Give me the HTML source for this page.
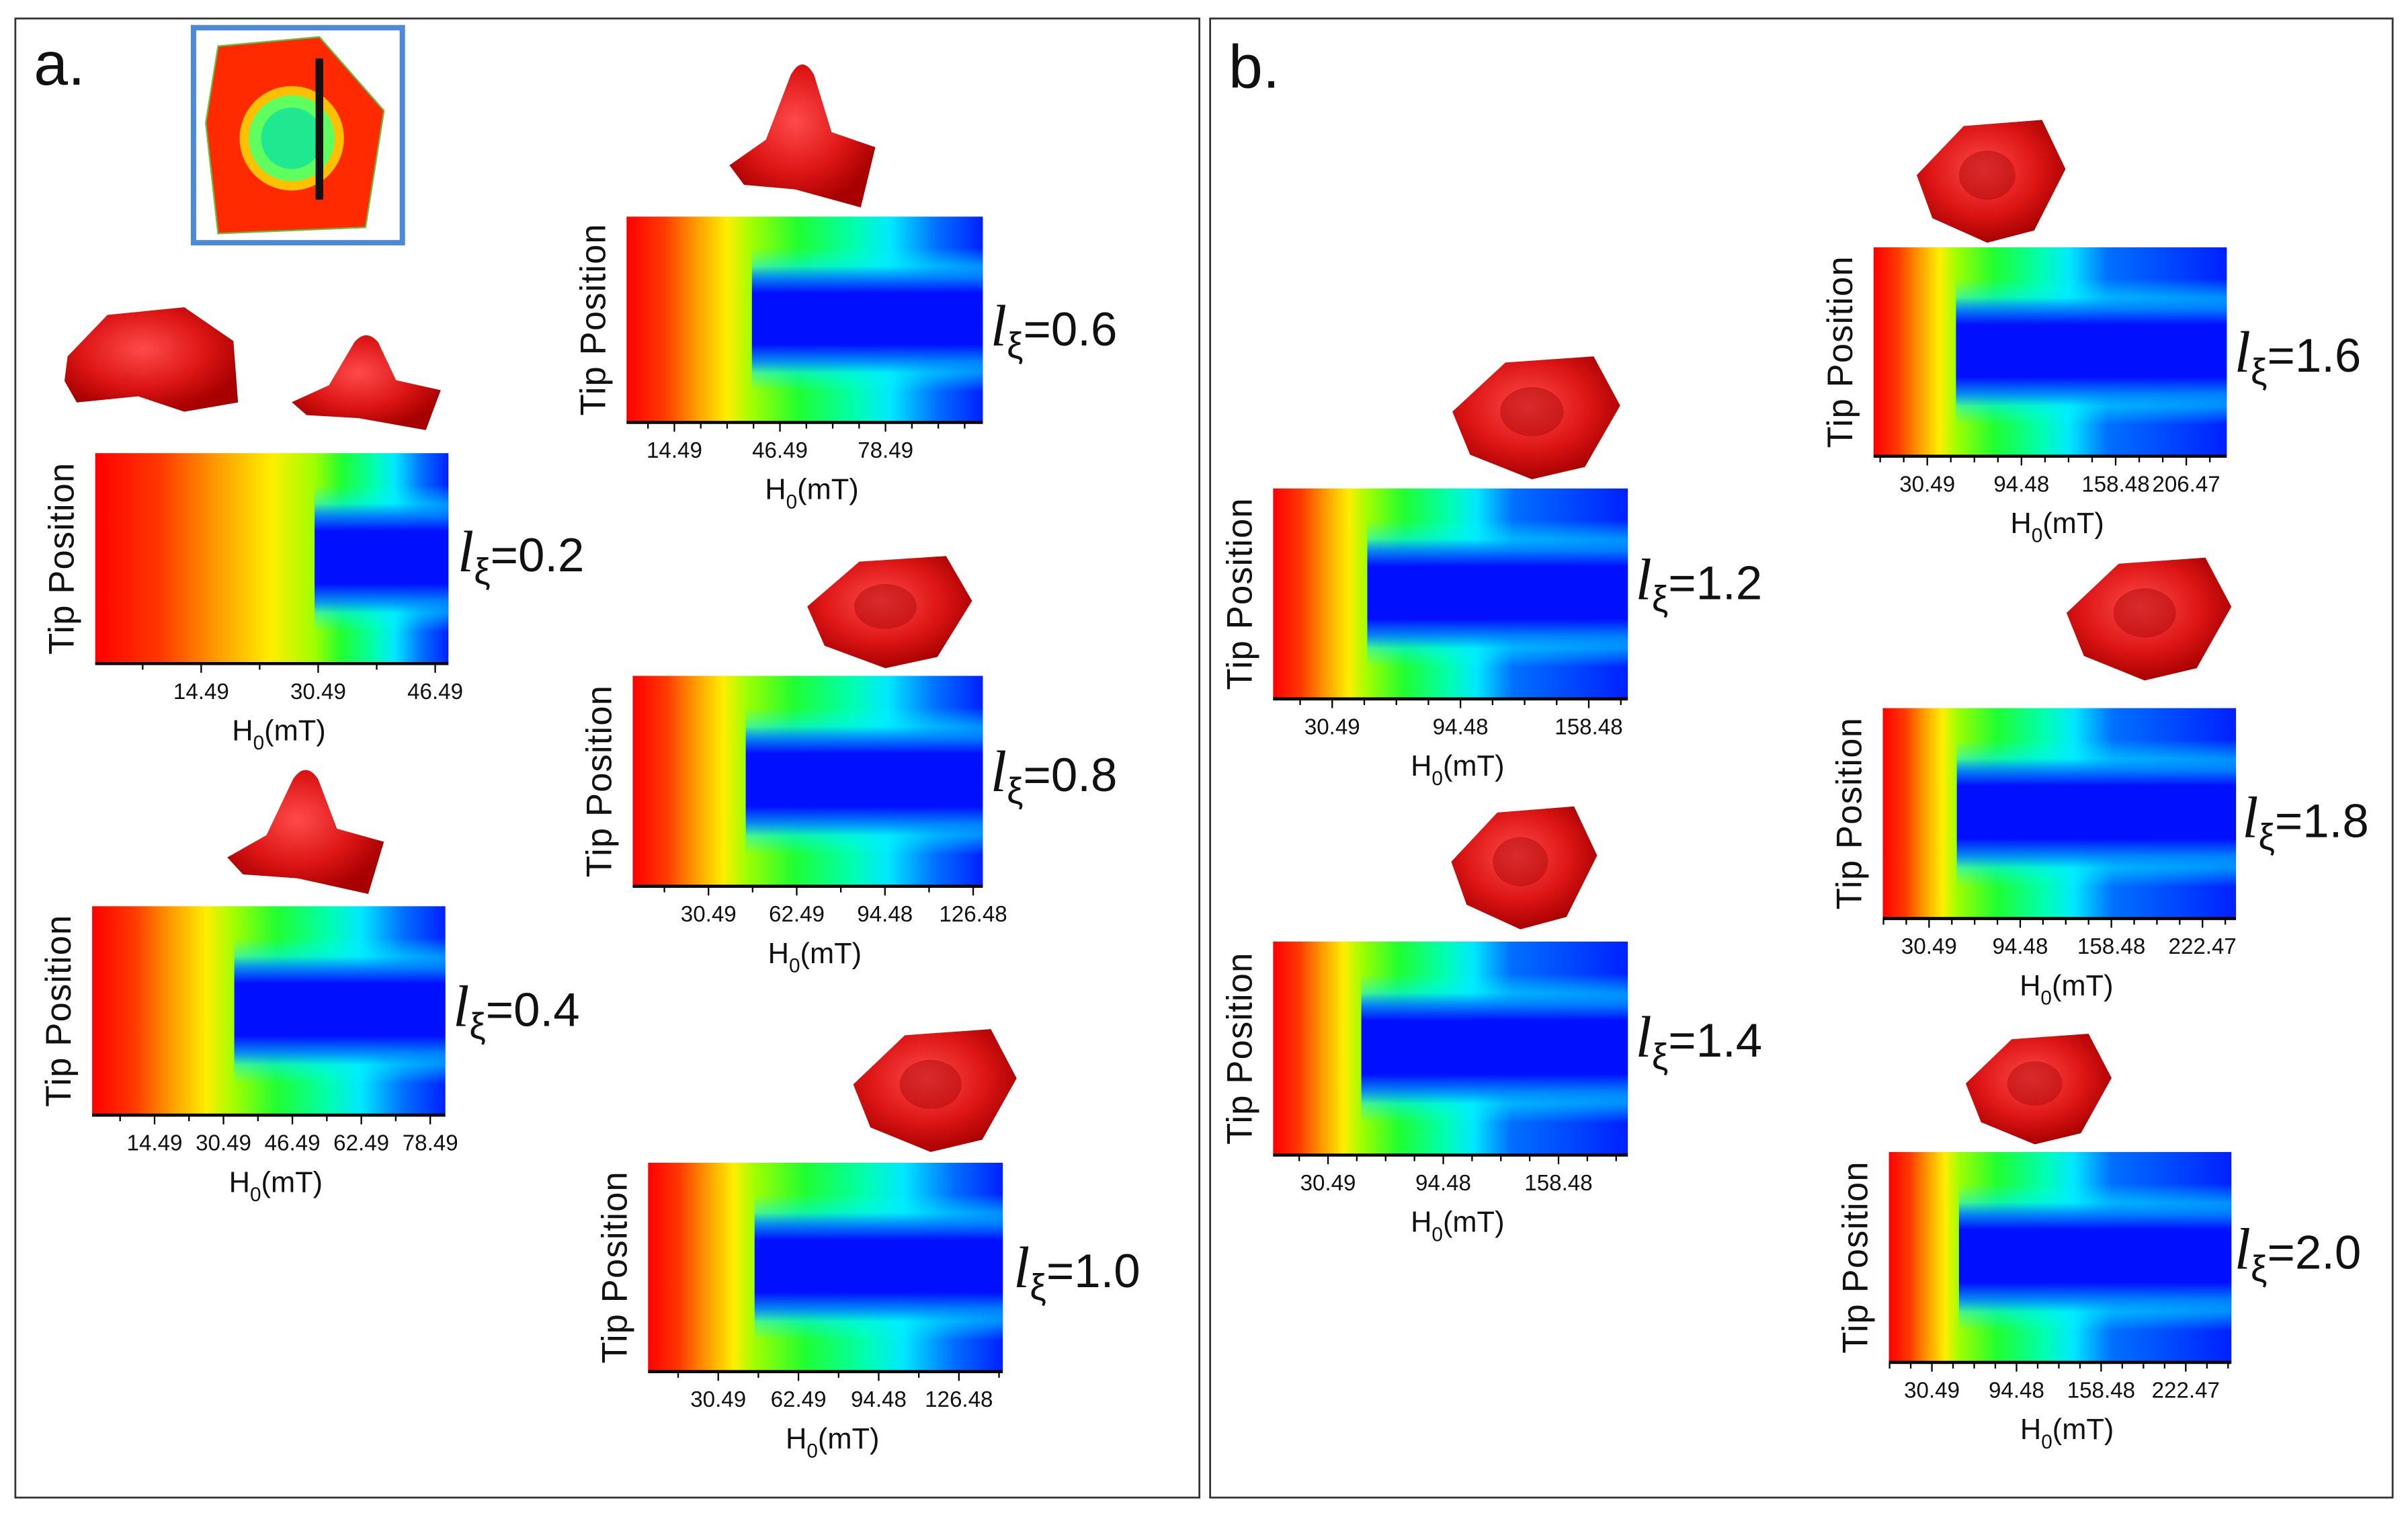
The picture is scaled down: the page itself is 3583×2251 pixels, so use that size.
<!DOCTYPE html>
<html><head><meta charset="utf-8"><style>
html,body{margin:0;padding:0;background:#fff;}
svg{display:block;}
text{font-family:"Liberation Sans",sans-serif;fill:#111;}
</style></head><body>
<svg id="fig" xmlns="http://www.w3.org/2000/svg" width="3583" height="2251" viewBox="0 0 1568 985">
<defs>
<radialGradient id="blobg" cx="0.45" cy="0.4" r="0.6"><stop offset="0" stop-color="#ff4a4a"/><stop offset="0.6" stop-color="#dd1515"/><stop offset="1" stop-color="#a80000"/></radialGradient>
<linearGradient id="bandv" x1="0" y1="0" x2="0" y2="1">
<stop offset="0" stop-color="#0010ff" stop-opacity="0"/><stop offset="0.24" stop-color="#0010ff" stop-opacity="0"/>
<stop offset="0.37" stop-color="#0010ff" stop-opacity="1"/><stop offset="0.62" stop-color="#0010ff" stop-opacity="1"/>
<stop offset="0.76" stop-color="#0010ff" stop-opacity="0"/><stop offset="1" stop-color="#0010ff" stop-opacity="0"/>
</linearGradient>
<linearGradient id="bandc" x1="0" y1="0" x2="0" y2="1">
<stop offset="0" stop-color="#00ffff" stop-opacity="0"/><stop offset="0.15" stop-color="#00ffff" stop-opacity="0"/>
<stop offset="0.3" stop-color="#00e0ff" stop-opacity="0.9"/><stop offset="0.7" stop-color="#00e0ff" stop-opacity="0.9"/>
<stop offset="0.85" stop-color="#00ffff" stop-opacity="0"/><stop offset="1" stop-color="#00ffff" stop-opacity="0"/>
</linearGradient>
</defs>
<rect x="10" y="12" width="771" height="963" fill="none" stroke="#333" stroke-width="1.2"/>
<rect x="788" y="12" width="770" height="963" fill="none" stroke="#333" stroke-width="1.2"/>
<text x="22" y="55" font-size="40">a.</text>
<text x="800" y="57" font-size="40">b.</text>
<g>
<rect x="126" y="18" width="136" height="140" fill="#fff" stroke="#4a8ad8" stroke-width="3.5"/>
<path d="M142 30 L208 24 L250 72 L238 148 L142 152 L134 80 Z" fill="#ff2a00" stroke="#60c040" stroke-width="1"/>
<circle cx="190" cy="90" r="34" fill="#ffd000" opacity="0.9"/>
<circle cx="190" cy="90" r="28" fill="#60ff60"/>
<circle cx="190" cy="90" r="20" fill="#20e890"/>
<line x1="208" y1="38" x2="208" y2="130" stroke="#111" stroke-width="5"/>
</g>
<g id="blobs"></g>
<g id="panels"></g>
</svg>
<script>
const lxiValues = ["0.2","0.4","0.6","0.8","1.0","1.2","1.4","1.6","1.8","2.0"];
const tickLabels = [
 [14.49,30.49,46.49],
 [14.49,30.49,46.49,62.49,78.49],
 [14.49,46.49,78.49],
 [30.49,62.49,94.48,126.48],
 [30.49,62.49,94.48,126.48],
 [30.49,94.48,158.48],
 [30.49,94.48,158.48],
 [30.49,94.48,158.48,206.47],
 [30.49,94.48,158.48,222.47],
 [30.49,94.48,158.48,222.47]
];
const domainMin = [0,0,0,3,2.5,1,0,-6,-2,-2];
const domainMax = [48.3,82,108,130,144,178,197,234,246,257];
const stepField = [30,33,38,44,45,48,49,50,50,51];
const minorStep = [8,8,8,16,16,16,16,16,16,16];
const boxes = [
 [62,295,292,432],[60,590,290,726],[408,141,640,275],[412,440,640,577],[422,757,653,893],
 [829,318,1060,455],[829,613,1060,752],[1220,161,1450,297],[1226,461,1456,598],[1230,750,1453,887]
];
const labelPos = [[298,372],[295,668],[645,225],[645,515],[660,838],[1065,390],[1065,688],[1455,242],[1460,545],[1455,826]];
const blobBoxes = [[190,215,287,280],[148,497,250,582],[475,37,570,135],[520,362,633,435],[550,670,662,750],[940,232,1055,312],[940,525,1040,605],[1243,78,1345,158],[1340,363,1453,443],[1275,673,1375,745]];
const blobPeak = [true,true,true,false,false,false,false,false,false,false];

const NS="http://www.w3.org/2000/svg";
function mk(tag,attrs,parent){const e=document.createElementNS(NS,tag);for(const k in attrs)e.setAttribute(k,attrs[k]);parent.appendChild(e);return e;}
const defs=document.querySelector('defs');
const panels=document.getElementById('panels');
const blobs=document.getElementById('blobs');

const flat=mk('path',{d:"M44 232 L70 205 L120 200 L152 222 L155 262 L120 268 L90 258 L50 262 L42 248 Z",fill:"url(#blobg)"},blobs);



blobBoxes.forEach((b,i)=>{
 const [x0,y0,x1,y1]=b,w=x1-x0,h=y1-y0;
 let d;
 if(blobPeak[i]){
  d=`M${x0} ${y0+h*0.72} L${x0+w*0.25} ${y0+h*0.55} L${x0+w*0.42} ${y0+h*0.12} Q${x0+w*0.5} ${y0-h*0.02} ${x0+w*0.58} ${y0+h*0.12} L${x0+w*0.7} ${y0+h*0.5} L${x1} ${y0+h*0.6} L${x0+w*0.9} ${y1} L${x0+w*0.45} ${y0+h*0.88} L${x0+w*0.1} ${y0+h*0.85} Z`;
 } else {
  d=`M${x0+w*0.05} ${y0+h*0.45} L${x0+w*0.35} ${y0+h*0.05} L${x0+w*0.85} ${y0} L${x1} ${y0+h*0.4} L${x0+w*0.8} ${y0+h*0.9} L${x0+w*0.5} ${y1} L${x0+w*0.15} ${y0+h*0.8} Z`;
 }
 const p=mk('path',{d:d,fill:"url(#blobg)"},blobs);
 
 
 if(!blobPeak[i]){
  const c=mk('ellipse',{cx:x0+w*0.5,cy:y0+h*0.45,rx:w*0.18,ry:h*0.2,fill:"#a00000",opacity:0.4},blobs);
  
  
 }
});

boxes.forEach((bx,i)=>{
 const [x0,y0,x1,y1]=bx,w=x1-x0,h=y1-y0;
 const xs=v=>x0+(v-domainMin[i])/(domainMax[i]-domainMin[i])*w;
 const s=(xs(stepField[i])-x0)/w;
 const g=mk('g',{},panels);
 
 
 const gid='hg'+i;
 const lg=mk('linearGradient',{id:gid,x1:0,y1:0,x2:1,y2:0},defs);
 const f = i>=5 ? 0.7 : 1;
 const stops=[[0,'#ff0000'],[s*0.3,'#ff3a00'],[s*0.55,'#ff9a00'],[s*0.8,'#ffee00'],[s,'#a0ff00'],
  [s+(1-s)*0.2*f,'#20ff30'],[s+(1-s)*0.45*f,'#00ffb0'],[s+(1-s)*0.6*f,'#00e8ff'],[s+(1-s)*0.8*f,'#0070ff'],[1,'#0020ff']];
 stops.forEach(st=>mk('stop',{offset:st[0],'stop-color':st[1]},lg));
 mk('rect',{x:x0,y:y0,width:w,height:h,fill:`url(#${gid})`},g);
 mk('rect',{x:x0+s*w,y:y0,width:w*(1-s),height:h,fill:'url(#bandc)'},g);
 mk('rect',{x:x0+s*w,y:y0,width:w*(1-s),height:h,fill:'url(#bandv)'},g);
 const ax=mk('line',{x1:x0,y1:y1,x2:x1,y2:y1,stroke:'#000','stroke-width':2},g);
 
 
 const t0=tickLabels[i][0], ms=minorStep[i];
 for(let v=t0-Math.floor((t0-domainMin[i])/ms)*ms; v<=domainMax[i]; v+=ms){
  const x=xs(v);
  const major=tickLabels[i].some(t=>Math.abs(t-v)<0.6);
  mk('line',{x1:x,y1:y1,x2:x,y2:y1+(major?6:4),stroke:'#000','stroke-width':1},g);
 }
 tickLabels[i].forEach(v=>{
  const t=mk('text',{x:xs(v),y:y1+23,'font-size':14.5,'text-anchor':'middle'},g);
  t.textContent=v.toFixed(2);
  
  
 });
 const xt=mk('text',{x:x0+w*0.52,y:y1+50,'font-size':19,'text-anchor':'middle'},g);
 xt.innerHTML='H<tspan font-size="13" dy="6">0</tspan><tspan dy="-6">(mT)</tspan>';
 
 
 const yt=mk('text',{x:0,y:0,'font-size':23,'text-anchor':'middle','letter-spacing':'0.5',transform:`translate(${x0-14},${y0+h/2}) rotate(-90)`},g);
 yt.textContent='Tip Position';
 
 
 const [lx,ly]=labelPos[i];
 const lb=mk('text',{x:lx,y:ly,'font-size':38},g);
 lb.innerHTML=`<tspan font-family="Liberation Serif, serif" font-style="italic">l</tspan><tspan font-size="24" dy="8">ξ</tspan><tspan dy="-8" font-size="31">=${lxiValues[i]}</tspan>`;
 
 
});
</script>
</body></html>
